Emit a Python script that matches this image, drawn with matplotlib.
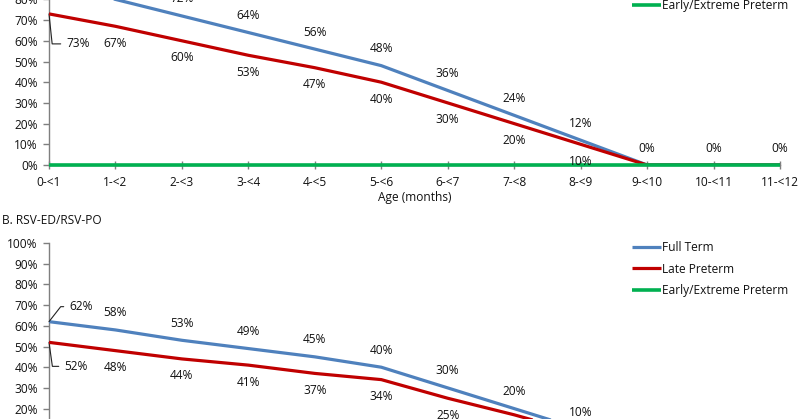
import matplotlib
matplotlib.use("Agg")
import matplotlib.pyplot as plt
from matplotlib.ticker import PercentFormatter

plt.rcParams['font.family'] = ['Open Sans', 'DejaVu Sans']

ages = ["0-<1", "1-<2", "2-<3", "3-<4", "4-<5", "5-<6", "6-<7", "7-<8", "8-<9", "9-<10", "10-<11", "11-<12"]

# Panel A (top, cropped)
a_full = [88, 80, 72, 64, 56, 48, 36, 24, 12, 0, 0, 0]
a_late = [73, 67, 60, 53, 47, 40, 30, 20, 10, 0, 0, 0]
a_early = [0, 0, 0, 0, 0, 0, 0, 0, 0, 0, 0, 0]

# Panel B (bottom, cropped)
b_full = [62, 58, 53, 49, 45, 40, 30, 20, 10, 0, 0, 0]
b_late = [52, 48, 44, 41, 37, 34, 25, 17, 8, 0, 0, 0]
b_early = [0, 0, 0, 0, 0, 0, 0, 0, 0, 0, 0, 0]

series_names = ["Full Term", "Late Preterm", "Early/Extreme Preterm"]
colors = ["#4F81BD", "#C00000", "#00B050"]

W, H = 800, 419
fig = plt.figure(figsize=(W / 100, H / 100), dpi=100)

def px_axes(left, top, right, bottom):
    return fig.add_axes([left / W, 1 - bottom / H, (right - left) / W, (bottom - top) / H])

FS = 8.6
TXT = "#111111"

def draw_panel(ax, full, late, early, xlabel=None):
    x = list(range(len(ages)))
    l1, = ax.plot(x, full, color=colors[0], lw=2.3, zorder=3, solid_capstyle='butt')
    l2, = ax.plot(x, late, color=colors[1], lw=2.3, zorder=4, solid_capstyle='butt')
    l3, = ax.plot(x, early, color=colors[2], lw=2.6, zorder=5, solid_capstyle='butt', clip_on=False)
    ax.set_xlim(0, len(ages) - 1)
    ax.set_ylim(0, 100)
    ax.set_yticks(range(0, 101, 10))
    ax.yaxis.set_major_formatter(PercentFormatter(decimals=0))
    ax.set_xticks(x)
    ax.set_xticklabels(ages)
    for s in ("top", "right"):
        ax.spines[s].set_visible(False)
    for s in ("left", "bottom"):
        ax.spines[s].set_color("#7f7f7f")
        ax.spines[s].set_linewidth(1.0)
    ax.tick_params(axis='y', direction='out', length=4, width=1, color="#7f7f7f", pad=4,
                   labelsize=FS, labelcolor=TXT)
    ax.tick_params(axis='x', direction='inout', length=6, width=1, color="#7f7f7f", pad=5,
                   labelsize=FS, labelcolor=TXT)
    if xlabel:
        ax.set_xlabel(xlabel, fontsize=FS, color=TXT, labelpad=1)

    # data labels
    for i, v in enumerate(full):
        if i == 0:
            continue
        ax.annotate(f"{v}%", (i, v), xytext=(0, 17), textcoords='offset pixels',
                    ha='center', va='center', fontsize=FS, color=TXT, zorder=6)
    for i, v in enumerate(late):
        if i == 0 or (v == 0):
            continue
        ax.annotate(f"{v}%", (i, v), xytext=(0, -17), textcoords='offset pixels',
                    ha='center', va='center', fontsize=FS, color=TXT, zorder=6)
    return [l1, l2, l3]

def leader(ax, label, xy, off, angleB):
    ax.annotate(label, xy, xytext=off, textcoords='offset pixels',
                ha='center', va='center', fontsize=FS, color=TXT,
                arrowprops=dict(arrowstyle='-', color='#222222', lw=0.8, shrinkA=2, shrinkB=0,
                                relpos=(0, 0.5),
                                connectionstyle=f'angle,angleA=0,angleB={angleB},rad=0'))

# top panel (cropped at top)
axA = px_axes(49, -42, 780, 165)
hA = draw_panel(axA, a_full, a_late, a_early, xlabel="Age (months)")
leader(axA, f"{a_full[0]}%", (0, a_full[0]), (29, 17), 55)
leader(axA, f"{a_late[0]}%", (0, a_late[0]), (29, -30), -84)
axA.legend(hA, series_names, loc='upper left', bbox_to_anchor=(0.7975, 1.01),
           frameon=False, fontsize=FS, handlelength=2.4, handletextpad=0.1,
           labelspacing=0.72, borderpad=0, borderaxespad=0, labelcolor=TXT)

# bottom panel (cropped at bottom)
axB = px_axes(49, 243, 780, 450)
hB = draw_panel(axB, b_full, b_late, b_early)
leader(axB, f"{b_full[0]}%", (0, b_full[0]), (32, 15), 52)
leader(axB, f"{b_late[0]}%", (0, b_late[0]), (27, -24), -82)
axB.legend(hB, series_names, loc='upper left', bbox_to_anchor=(0.7975, 1.01),
           frameon=False, fontsize=FS, handlelength=2.4, handletextpad=0.1,
           labelspacing=0.72, borderpad=0, borderaxespad=0, labelcolor=TXT)

fig.text(2 / W, 1 - 220 / H, "B. RSV-ED/RSV-PO", ha='left', va='center', fontsize=FS, color=TXT)

fig.savefig("out.png", dpi=100)
